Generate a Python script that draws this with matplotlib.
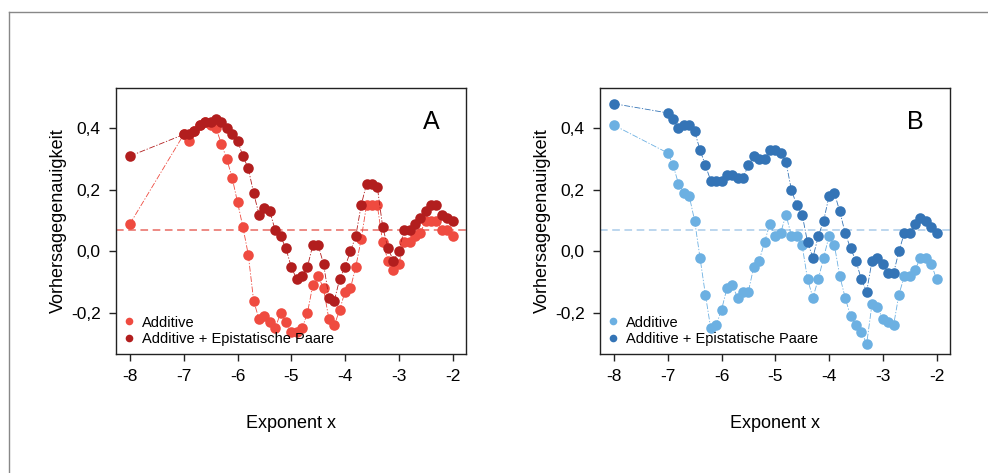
import matplotlib
matplotlib.use("Agg")
import matplotlib.pyplot as plt
from matplotlib.lines import Line2D

plt.rcParams['font.family'] = ['Liberation Sans', 'DejaVu Sans']

# exponent grid (x axis)
exponent = [-8.0,
            -7.0, -6.9, -6.8, -6.7, -6.6, -6.5, -6.4, -6.3, -6.2, -6.1,
            -6.0, -5.9, -5.8, -5.7, -5.6, -5.5, -5.4, -5.3, -5.2, -5.1,
            -5.0, -4.9, -4.8, -4.7, -4.6, -4.5, -4.4, -4.3, -4.2, -4.1,
            -4.0, -3.9, -3.8, -3.7, -3.6, -3.5, -3.4, -3.3, -3.2, -3.1,
            -3.0, -2.9, -2.8, -2.7, -2.6, -2.5, -2.4, -2.3, -2.2, -2.1,
            -2.0]

# panel A
a_additive = [0.09,
              0.38, 0.36, 0.39, 0.41, 0.42, 0.41, 0.40, 0.35, 0.30, 0.24,
              0.16, 0.08, -0.01, -0.16, -0.22, -0.21, -0.23, -0.25, -0.20, -0.23,
              -0.26, -0.26, -0.25, -0.20, -0.11, -0.08, -0.12, -0.22, -0.24, -0.19,
              -0.13, -0.12, -0.05, 0.04, 0.15, 0.15, 0.15, 0.03, -0.03, -0.06,
              -0.04, 0.03, 0.03, 0.05, 0.06, 0.10, 0.10, 0.10, 0.07, 0.07,
              0.05]
a_epistatic = [0.31,
               0.38, 0.38, 0.39, 0.41, 0.42, 0.42, 0.43, 0.42, 0.40, 0.38,
               0.36, 0.31, 0.27, 0.19, 0.12, 0.14, 0.13, 0.07, 0.05, 0.01,
               -0.05, -0.09, -0.08, -0.05, 0.02, 0.02, -0.04, -0.15, -0.16, -0.09,
               -0.05, 0.00, 0.05, 0.15, 0.22, 0.22, 0.21, 0.08, 0.01, -0.03,
               0.00, 0.07, 0.07, 0.09, 0.11, 0.13, 0.15, 0.15, 0.12, 0.11,
               0.10]

# panel B
b_additive = [0.41,
              0.32, 0.28, 0.22, 0.19, 0.18, 0.10, -0.02, -0.14, -0.25, -0.24,
              -0.19, -0.12, -0.11, -0.15, -0.13, -0.13, -0.05, -0.03, 0.03, 0.09,
              0.05, 0.06, 0.12, 0.05, 0.05, 0.02, -0.09, -0.15, -0.09, -0.02,
              0.05, 0.02, -0.08, -0.15, -0.21, -0.24, -0.26, -0.30, -0.17, -0.18,
              -0.22, -0.23, -0.24, -0.14, -0.08, -0.08, -0.06, -0.02, -0.02, -0.04,
              -0.09]
b_epistatic = [0.48,
               0.45, 0.43, 0.40, 0.41, 0.41, 0.39, 0.33, 0.28, 0.23, 0.23,
               0.23, 0.25, 0.25, 0.24, 0.24, 0.28, 0.31, 0.30, 0.30, 0.33,
               0.33, 0.32, 0.29, 0.20, 0.15, 0.12, 0.03, -0.02, 0.05, 0.10,
               0.18, 0.19, 0.13, 0.06, 0.01, -0.03, -0.09, -0.13, -0.03, -0.02,
               -0.04, -0.07, -0.07, 0.00, 0.06, 0.06, 0.09, 0.11, 0.10, 0.08,
               0.06]

baseline = 0.07
labels = ["Additive", "Additive + Epistatische Paare"]
yticks = [-0.2, 0.0, 0.2, 0.4]
ytick_labels = ["-0,2", "0,0", "0,2", "0,4"]
xticks = [-8, -7, -6, -5, -4, -3, -2]

fig = plt.figure(figsize=(9.88, 4.73), dpi=100)

# thin frame around the figure (top and left edge visible in the original)
fig.add_artist(Line2D([9/988, 1.0], [1 - 12/473, 1 - 12/473], color="#888888", lw=1.0))
fig.add_artist(Line2D([9/988, 9/988], [0.0, 1 - 12/473], color="#888888", lw=1.0))

panels = [
    ("A", 116, a_additive, a_epistatic, "#ef4b40", "#b21e1e", "#e86a62"),
    ("B", 600, b_additive, b_epistatic, "#6cb0e2", "#3474b6", "#a9cbea"),
]

for name, left_px, y_add, y_epi, c_light, c_dark, c_base in panels:
    ax = fig.add_axes([left_px / 988, 119 / 473, 350 / 988, 266 / 473])
    ax.axhline(baseline, color=c_base, lw=1.1, ls=(0, (5, 3)), zorder=1)
    ax.plot(exponent, y_add, color=c_light, lw=0.6, ls=(0, (7, 2, 1.5, 2)),
            zorder=2)
    ax.plot(exponent, y_add, ls="none", color=c_light, marker="o", ms=7.6,
            mec="none", zorder=3)
    ax.plot(exponent, y_epi, color=c_dark, lw=0.6, ls=(0, (7, 2, 1.5, 2)),
            zorder=4)
    ax.plot(exponent, y_epi, ls="none", color=c_dark, marker="o", ms=7.6,
            mec="none", zorder=5)

    ax.set_xlim(-8.26, -1.75)
    ax.set_ylim(-0.333, 0.531)
    ax.set_xticks(xticks)
    ax.set_xticklabels([str(t) for t in xticks])
    ax.set_yticks(yticks)
    ax.set_yticklabels(ytick_labels)
    ax.tick_params(direction="out", length=5, width=1, labelsize=12.5,
                   pad=6, color="#222222")
    for sp in ax.spines.values():
        sp.set_linewidth(1.0)
        sp.set_color("#222222")

    ax.set_xlabel("Exponent x", fontsize=13, labelpad=22)
    ax.set_ylabel("Vorhersagegenauigkeit", fontsize=13, labelpad=3)
    ax.text(0.9, 0.872, name, transform=ax.transAxes, fontsize=18,
            ha="center", va="center")

    handles = [Line2D([], [], ls="none", marker="o", ms=5.5, color=c_light, mec="none"),
               Line2D([], [], ls="none", marker="o", ms=5.5, color=c_dark, mec="none")]
    ax.legend(handles, labels, loc="lower left", bbox_to_anchor=(0.025, 0.031),
              frameon=False, fontsize=10.5, handlelength=0.6, handletextpad=0.6,
              borderpad=0, borderaxespad=0, labelspacing=0.15)

fig.savefig("out.png", dpi=100)
